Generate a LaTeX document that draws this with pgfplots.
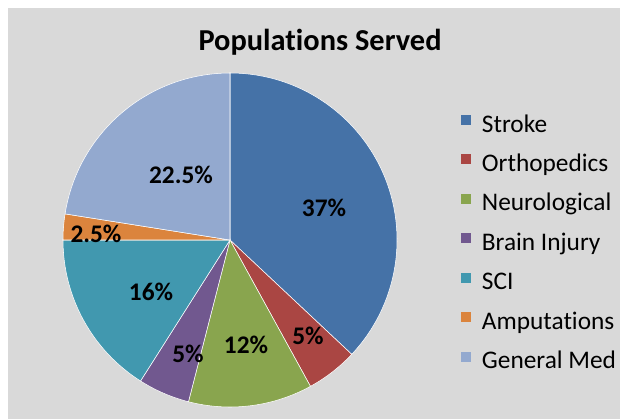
\documentclass[border=0pt]{standalone}
\usepackage{pgfplots}
\pgfplotsset{compat=1.18}
\usepackage{fontspec}
\setmainfont{Carlito}[Ligatures=NoCommon]
\definecolor{cStroke}{HTML}{4572A7}
\definecolor{cOrtho}{HTML}{AA4643}
\definecolor{cNeuro}{HTML}{89A54E}
\definecolor{cBrain}{HTML}{71588F}
\definecolor{cSCI}{HTML}{4198AF}
\definecolor{cAmp}{HTML}{DB843D}
\definecolor{cGen}{HTML}{93A9CF}
\definecolor{bg}{HTML}{D9D9D9}
% pie shares, in percent, clockwise from 12 o'clock
% Stroke 37, Orthopedics 5, Neurological 12, Brain Injury 5, SCI 16, Amputations 2.5, General Med 22.5
\newcommand{\R}{125.25pt}
\newcommand{\slice}[3]{% start percent, share percent, colour
  \fill[#3, draw=white, line width=0.4pt] (axis cs:230,179) -- ++({90-3.6*(#1)}:\R)
    arc[start angle={90-3.6*(#1)}, delta angle={-3.6*(#2)}, radius=\R] -- cycle;}
\begin{document}
\begin{tikzpicture}
\begin{axis}[
  width=465pt, height=314.25pt, scale only axis,
  xmin=0, xmax=620, ymin=0, ymax=419,
  hide axis, clip=false,
  legend style={at={(0.7435,0.7365)}, anchor=north west, draw=none, fill=none,
    font=\fontsize{19}{19}\selectfont, row sep=10.1pt, column sep=6pt, inner sep=0pt,
    cells={anchor=west, inner sep=0pt, text height=14pt, text depth=4pt}},
  legend cell align=left,
  legend image code/.code={\fill[#1, draw=none] (0pt,-1pt) rectangle (7.5pt,6.5pt);},
]
\fill[white] (axis cs:0,0) rectangle (axis cs:620,419);
\fill[bg] (axis cs:8,0) rectangle (axis cs:620,411);
\slice{0}{37}{cStroke}
\slice{37}{5}{cOrtho}
\slice{42}{12}{cNeuro}
\slice{54}{5}{cBrain}
\slice{59}{16}{cSCI}
\slice{75}{2.5}{cAmp}
\slice{77.5}{22.5}{cGen}
\addlegendimage{fill=cStroke, draw=none}\addlegendentry{Stroke}
\addlegendimage{fill=cOrtho, draw=none}\addlegendentry{Orthopedics}
\addlegendimage{fill=cNeuro, draw=none}\addlegendentry{Neurological}
\addlegendimage{fill=cBrain, draw=none}\addlegendentry{Brain Injury}
\addlegendimage{fill=cSCI, draw=none}\addlegendentry{SCI}
\addlegendimage{fill=cAmp, draw=none}\addlegendentry{Amputations}
\addlegendimage{fill=cGen, draw=none}\addlegendentry{General Med}
\begin{scope}[every node/.style={font=\fontsize{19}{19}\selectfont\bfseries, inner sep=0pt}]
\node at (axis cs:324,211) {37\%};
\node at (axis cs:308,83) {5\%};
\node at (axis cs:246,74) {12\%};
\node at (axis cs:188,65.5) {5\%};
\node at (axis cs:151,127) {16\%};
\node at (axis cs:96,185) {2.5\%};
\node at (axis cs:181,244) {22.5\%};
\end{scope}
\node[font=\fontsize{22.8}{22.8}\selectfont\bfseries, anchor=base] at (axis cs:320,369) {Populations Served};
\end{axis}
\end{tikzpicture}
\end{document}
